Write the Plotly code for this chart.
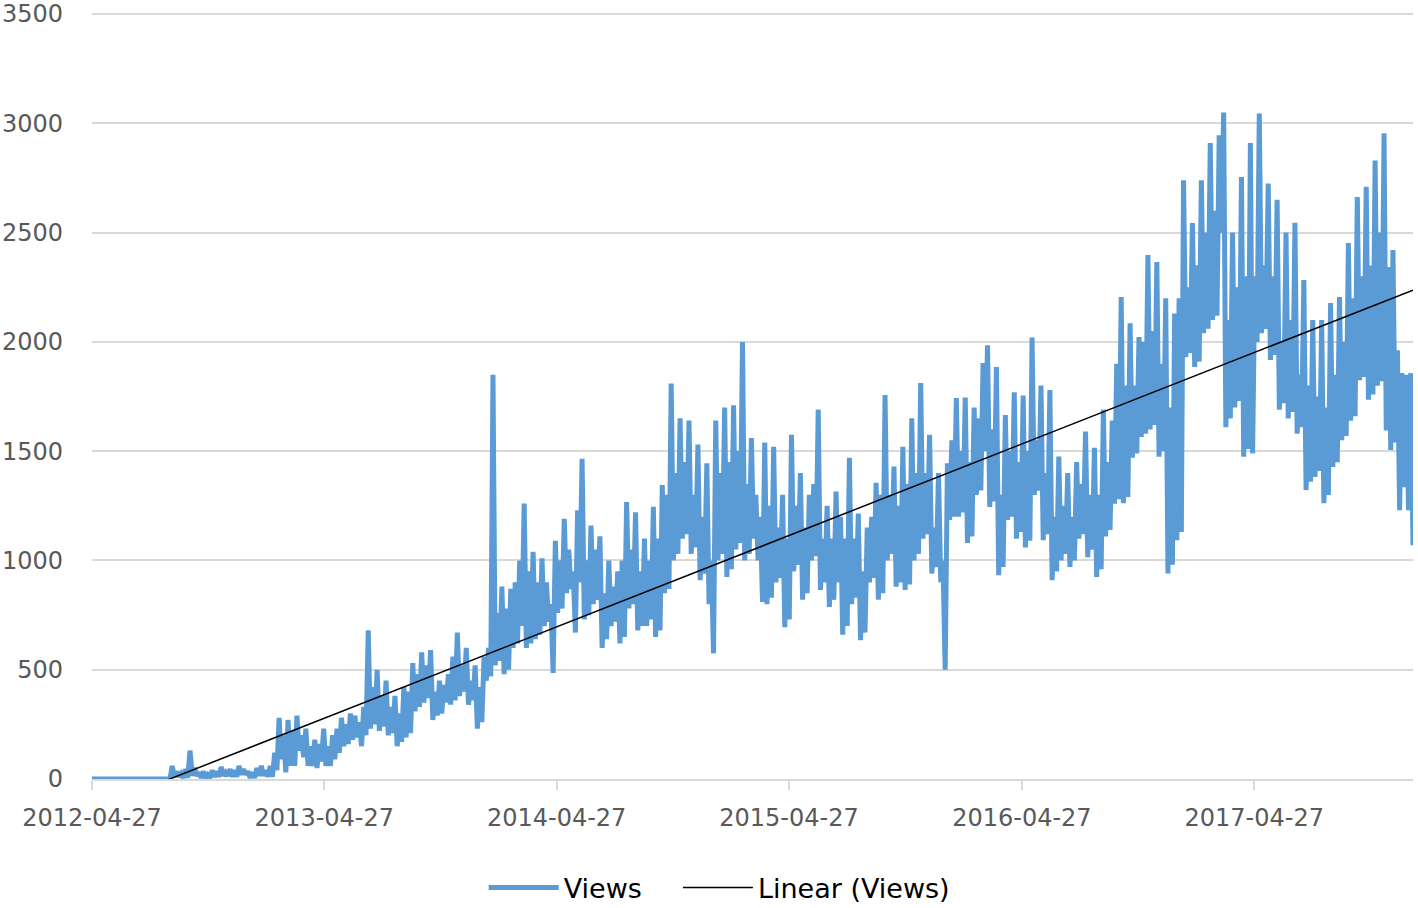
import pandas as pd
import plotly.graph_objects as go

start_date = "2012-04-27"

views_2012 = [0, 0, 0, 0, 0, 0, 0, 0, 0, 0, 0, 0, 0, 0, 0, 0, 0, 0,
              0, 0, 0, 0, 0, 0, 0, 0, 0, 0, 0, 0, 0, 0, 0, 0, 0, 0,
              60, 10, 35, 10, 25, 5, 45, 5, 130, 15, 50, 15, 30, 5, 35, 5,
              20, 10, 40, 10, 35, 10, 55, 15, 30, 15, 45, 10, 40, 10, 60, 20,
              45, 20, 35, 5, 30, 5, 50, 15, 60, 15, 40, 10, 60, 10, 120, 40,
              280, 90, 200, 30, 270, 60, 220, 60, 290, 130, 200, 100, 230, 60]
views_2013 = [150, 60, 180, 50, 160, 80, 230, 60, 150, 60, 200, 90, 230, 120, 280, 150,
              250, 160, 300, 180, 290, 190, 260, 150, 330, 200, 680, 230, 420, 250, 500, 220,
              380, 240, 450, 200, 330, 210, 380, 150, 300, 170, 420, 190, 400, 210, 530, 310,
              480, 330, 580, 350, 520, 370, 590, 270, 400, 290, 450, 300, 430, 350, 480, 340,
              560, 360, 670, 380, 520, 400, 600, 340, 450, 360, 520, 230, 420, 260, 560, 450,
              600, 470, 1850, 520, 760, 540, 880, 480, 780, 500, 870, 600, 900, 620, 1000, 700,
              1260, 600, 950, 620, 1040, 640, 900, 660]
views_2014 = [1010, 700, 900, 720, 800, 485, 1090, 760, 1000, 780, 1190, 850, 1050, 870, 950, 670,
              1230, 900, 1465, 730, 1000, 750, 1160, 800, 1050, 820, 1110, 600, 850, 640, 1000, 700,
              880, 720, 950, 620, 1000, 650, 1267, 780, 1050, 800, 1220, 680, 950, 700, 1100, 700,
              1000, 730, 1245, 650, 1100, 680, 1345, 850, 1300, 870, 1810, 1000, 1400, 1030, 1650, 1100,
              1450, 1120, 1640, 1030, 1300, 1060, 1530, 910, 1200, 940, 1445, 800, 1000, 575, 1640, 1000,
              1400, 1030, 1700, 925, 1450, 960, 1710, 1050, 1500, 1080, 2000, 1000, 1350, 1030, 1560, 1100,
              1300, 1000, 1200, 810]
views_2015 = [1540, 800, 1250, 830, 1520, 900, 1150, 920, 1300, 695, 1100, 730, 1575, 950, 1250, 980,
              1400, 820, 1150, 850, 1300, 1000, 1350, 1020, 1690, 865, 1100, 900, 1250, 787, 1100, 820,
              1315, 900, 1200, 660, 1100, 700, 1470, 800, 1100, 830, 1215, 635, 950, 670, 1150, 900,
              1200, 920, 1355, 820, 1300, 850, 1757, 1000, 1300, 1030, 1430, 880, 1250, 900, 1520, 865,
              1350, 890, 1650, 1000, 1400, 1030, 1812, 1100, 1400, 1120, 1575, 940, 1150, 970, 1400, 900,
              1000, 500, 1445, 1185, 1550, 1200, 1743, 1200, 1500, 1220, 1745, 1080, 1450, 1110, 1700, 1300,
              1650, 1320, 1903, 1500]
views_2016 = [1985, 1245, 1600, 1270, 1885, 933, 1300, 970, 1665, 1185, 1500, 1200, 1770, 1100, 1450, 1130,
              1755, 1060, 1500, 1090, 2020, 1300, 1550, 1320, 1800, 1093, 1400, 1120, 1780, 910, 1200, 950,
              1475, 1000, 1250, 1030, 1400, 970, 1200, 1000, 1450, 1100, 1350, 1120, 1590, 1015, 1300, 1050,
              1515, 925, 1300, 960, 1690, 1110, 1450, 1140, 1640, 1260, 1900, 1280, 2205, 1262, 1800, 1290,
              2085, 1470, 1800, 1490, 2022, 1565, 2000, 1580, 2397, 1600, 2050, 1620, 2365, 1475, 1900, 1500,
              2200, 940, 1700, 980, 2130, 1093, 2200, 1130, 2740, 1930, 2250, 1950, 2544, 1885, 2350, 1910,
              2740, 2040, 2500, 2060]
views_2017 = [2910, 2100, 2600, 2120, 2946, 2500, 3050, 1610, 2100, 1650, 2500, 1700, 2250, 1730, 2755, 1475,
              2300, 1510, 2910, 1490, 2300, 2000, 3045, 2040, 2350, 2060, 2725, 1917, 2300, 1940, 2650, 1690,
              2000, 1720, 2500, 1650, 2100, 1680, 2545, 1580, 1850, 1610, 2283, 1322, 1800, 1360, 2100, 1382,
              1750, 1410, 2100, 1262, 1700, 1300, 2178, 1428, 1850, 1450, 2205, 1550, 2000, 1570, 2452, 1640,
              2200, 1660, 2663, 1825, 2300, 1840, 2710, 1735, 2350, 1760, 2830, 1800, 2500, 1820, 2955, 1595,
              2343, 1505, 2420, 1540, 1962, 1230, 1857, 1335, 1850, 1230, 1857, 1070]

# Excel linear trendline, read at both ends of the series
trend_views = [-140, 2237]

tick_dates = ["2012-04-27", "2013-04-27", "2014-04-27", "2015-04-27", "2016-04-27", "2017-04-27"]

views = views_2012 + views_2013 + views_2014 + views_2015 + views_2016 + views_2017
dates = pd.date_range(start_date, periods=len(views), freq="84h")
trend_dates = [dates[0], dates[-1]]

fig = go.Figure()
fig.add_trace(go.Scatter(
    x=dates, y=views, mode="lines", name="Views",
    line=dict(color="#5B9BD5", width=5), legend="legend",
))
fig.add_trace(go.Scatter(
    x=trend_dates, y=trend_views, mode="lines", name="Linear (Views)",
    line=dict(color="#000000", width=1.5), legend="legend2",
))

fig.update_xaxes(
    type="date",
    range=[dates[0], dates[-1]],
    tickvals=tick_dates,
    tickformat="%Y-%m-%d",
    showgrid=False,
    showline=True, linecolor="#D9D9D9", linewidth=2,
    ticks="outside", tickcolor="#D9D9D9", ticklen=9, tickwidth=2,
    ticklabelstandoff=7,
    automargin=False,
    tickfont=dict(family="DejaVu Sans", size=24, color="#595959"),
)
# top of range nudged past 3500 so plotly keeps the 3500 gridline
fig.update_yaxes(
    range=[0, 3505], tickvals=[0, 500, 1000, 1500, 2000, 2500, 3000, 3500],
    showgrid=True, gridcolor="#D9D9D9", gridwidth=2,
    zeroline=False, showline=False,
    ticklabelstandoff=28,
    automargin=False,
    tickfont=dict(family="DejaVu Sans", size=24, color="#595959"),
)

legend_font = dict(family="DejaVu Sans", size=27, color="#000000")
fig.update_layout(
    width=1418, height=908,
    margin=dict(l=92, r=5, t=13, b=129),
    paper_bgcolor="white", plot_bgcolor="white",
    showlegend=True,
    legend=dict(orientation="h", xref="container", yref="container",
                x=0.3411, xanchor="left", y=0.022, yanchor="middle",
                font=legend_font, itemwidth=70),
    legend2=dict(orientation="h", xref="container", yref="container",
                 x=0.4781, xanchor="left", y=0.022, yanchor="middle",
                 font=legend_font, itemwidth=70),
)

# page body has a default 8px margin; drop it so the figure sits at the window corner
fig.write_html("out.html", config={"displayModeBar": False},
               post_script="document.body.style.margin = '0';")
